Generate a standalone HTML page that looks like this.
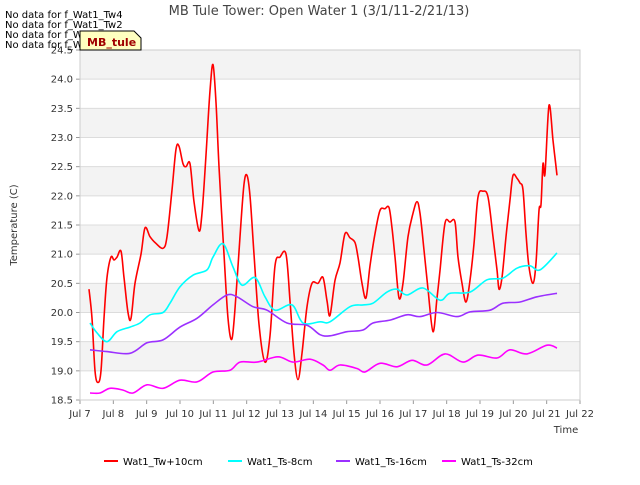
<!DOCTYPE html>
<html><head><meta charset="utf-8"><style>
body{margin:0;background:#fff;font-family:"Liberation Sans","DejaVu Sans",sans-serif}
svg text{font-family:"DejaVu Sans","Liberation Sans",sans-serif}
</style></head><body>
<svg id="chart" width="640" height="480" viewBox="0 0 640 480" xmlns="http://www.w3.org/2000/svg">
<g id="bands"></g>
<g id="axes"></g>
<g id="series"></g>
<text x="319" y="15" font-size="13" fill="#444" text-anchor="middle">MB Tule Tower: Open Water 1 (3/1/11-2/21/13)</text>
<text x="17" y="225" font-size="10" fill="#333" text-anchor="middle" transform="rotate(-90 17 225)">Temperature (C)</text>
<text x="566" y="433" font-size="10" fill="#333" text-anchor="middle">Time</text>
<g font-size="10" fill="#000">
<text x="5" y="18">No data for f_Wat1_Tw4</text>
<text x="5" y="28">No data for f_Wat1_Tw2</text>
<text x="5" y="38">No data for f_Wat1_Ts2</text>
<text x="5" y="48">No data for f_Wat1_Ts4</text>
</g>
<g>
<path d="M80,31 L134,31 L141,38 L141,50 L80,50 Z" fill="#ffffc0" stroke="#000" stroke-width="1"/>
<text x="87" y="46" font-size="11" font-weight="bold" fill="#a00000">MB_tule</text>
</g>
<g id="legend" font-size="10" fill="#000"></g>
</svg>
<script>
const redDays=[7.27,7.36,7.45,7.54,7.63,7.72,7.81,7.93,8.02,8.11,8.23,8.32,8.44,8.53,8.65,8.83,8.95,9.10,9.25,9.49,9.61,9.76,9.88,9.97,10.09,10.18,10.30,10.42,10.57,10.66,10.78,10.90,10.99,11.08,11.17,11.32,11.44,11.56,11.68,11.80,11.92,12.01,12.10,12.22,12.37,12.55,12.70,12.85,13.00,13.18,13.30,13.42,13.54,13.66,13.81,13.96,14.14,14.29,14.41,14.50,14.65,14.80,14.95,15.10,15.25,15.34,15.46,15.58,15.70,15.85,16.00,16.15,16.27,16.36,16.45,16.57,16.69,16.84,16.99,17.11,17.20,17.32,17.44,17.59,17.71,17.80,17.95,18.10,18.25,18.34,18.46,18.58,18.70,18.82,18.94,19.09,19.24,19.39,19.51,19.57,19.66,19.78,19.90,19.99,20.11,20.20,20.29,20.38,20.47,20.59,20.68,20.77,20.83,20.89,20.95,21.07,21.19,21.25,21.31];
const redVals=[20.4,19.9,19.0,18.8,19.0,19.9,20.6,20.95,20.9,20.95,21.05,20.6,20.0,19.9,20.5,21.0,21.45,21.3,21.2,21.1,21.3,22.1,22.8,22.85,22.55,22.5,22.55,21.9,21.4,21.7,22.7,23.8,24.25,23.6,22.5,21.0,19.9,19.55,20.3,21.3,22.2,22.35,22.0,21.0,19.8,19.15,19.6,20.8,20.95,21.0,20.2,19.3,18.85,19.3,20.1,20.5,20.5,20.6,20.2,19.95,20.55,20.85,21.35,21.28,21.2,20.95,20.5,20.25,20.8,21.35,21.75,21.78,21.8,21.45,20.95,20.25,20.5,21.3,21.7,21.9,21.7,21.07,20.4,19.67,20.25,20.72,21.53,21.55,21.55,20.95,20.5,20.18,20.55,21.18,21.98,22.08,21.98,21.3,20.73,20.4,20.6,21.3,21.93,22.35,22.3,22.22,22.1,21.35,20.78,20.5,20.85,21.75,21.85,22.55,22.38,23.55,22.95,22.65,22.35];
const cyanDays=[7.30,7.51,7.81,8.11,8.50,8.80,9.10,9.49,9.70,10.00,10.39,10.81,10.99,11.29,11.59,11.86,12.25,12.55,12.85,13.36,13.69,14.20,14.50,15.10,15.49,15.79,16.21,16.51,16.81,17.29,17.80,18.10,18.70,19.21,19.69,20.11,20.50,20.80,21.31];
const cyanVals=[19.82,19.65,19.5,19.67,19.75,19.82,19.96,20.0,20.16,20.44,20.64,20.73,20.95,21.18,20.78,20.47,20.6,20.27,20.04,20.13,19.82,19.84,19.84,20.1,20.13,20.16,20.35,20.4,20.3,20.42,20.21,20.33,20.35,20.56,20.59,20.76,20.8,20.73,21.02];
const purpleDays=[7.30,7.81,8.50,9.01,9.49,10.00,10.51,10.99,11.41,11.71,12.19,12.61,13.21,13.81,14.20,14.50,15.01,15.49,15.79,16.30,16.81,17.20,17.71,18.31,18.70,19.30,19.69,20.20,20.71,21.31];
const purpleVals=[19.36,19.33,19.3,19.48,19.53,19.75,19.9,20.13,20.3,20.27,20.1,20.04,19.82,19.78,19.62,19.6,19.67,19.7,19.82,19.87,19.96,19.93,20.0,19.93,20.01,20.04,20.16,20.18,20.27,20.33];
const magentaDays=[7.30,7.60,7.90,8.29,8.59,9.01,9.49,10.00,10.51,10.99,11.50,11.80,12.31,12.94,13.39,13.90,14.29,14.50,14.80,15.31,15.55,16.00,16.51,16.96,17.41,17.95,18.49,18.94,19.51,19.90,20.41,21.01,21.31];
const magentaVals=[18.62,18.62,18.7,18.67,18.62,18.76,18.7,18.84,18.81,18.98,19.01,19.15,19.15,19.24,19.15,19.2,19.1,19.01,19.1,19.04,18.98,19.13,19.07,19.18,19.1,19.29,19.15,19.27,19.22,19.36,19.29,19.44,19.39];
const yTicks=[18.5,19.0,19.5,20.0,20.5,21.0,21.5,22.0,22.5,23.0,23.5,24.0,24.5];
const xTicks=[7,8,9,10,11,12,13,14,15,16,17,18,19,20,21,22];
const xTickLabels=["Jul 7","Jul 8","Jul 9","Jul 10","Jul 11","Jul 12","Jul 13","Jul 14","Jul 15","Jul 16","Jul 17","Jul 18","Jul 19","Jul 20","Jul 21","Jul 22"];
const seriesNames=["Wat1_Tw+10cm","Wat1_Ts-8cm","Wat1_Ts-16cm","Wat1_Ts-32cm"];

const NS="http://www.w3.org/2000/svg";
const L=80,R=580,T=50,B=400;
const xs=d=>L+(d-7)/(22-7)*(R-L);
const ys=v=>B-(v-18.5)/(24.5-18.5)*(B-T);
function mk(tag,parent,attrs){const e=document.createElementNS(NS,tag);for(const k in attrs)e.setAttribute(k,attrs[k]);parent.appendChild(e);return e;}
const bands=document.getElementById('bands'),axes=document.getElementById('axes'),ser=document.getElementById('series'),leg=document.getElementById('legend');
mk('rect',bands,{x:L,y:T,width:R-L,height:B-T,fill:'#fff'});
for(let v=19;v<24.5;v+=1){
  const r=mk('rect',bands,{x:L,y:ys(v+0.5),width:R-L,height:ys(v)-ys(v+0.5),fill:'#f3f3f3'});
  
  
}
yTicks.forEach(v=>{
  const g=mk('line',axes,{x1:L,x2:R,y1:ys(v),y2:ys(v),stroke:'#dcdcdc','stroke-width':1});
  
  
  mk('line',axes,{x1:L-4,x2:L,y1:ys(v),y2:ys(v),stroke:'#999'});
  const t=mk('text',axes,{x:L-7,y:ys(v)+3.5,'font-size':10,fill:'#333','text-anchor':'end'});
  t.textContent=v.toFixed(1);
  
  
});
xTicks.forEach((d,i)=>{
  mk('line',axes,{x1:xs(d),x2:xs(d),y1:B,y2:B+4,stroke:'#999'});
  const t=mk('text',axes,{x:xs(d),y:B+17,'font-size':10,fill:'#333','text-anchor':'middle'});
  t.textContent=xTickLabels[i];
  
  
});
mk('rect',axes,{x:L,y:T,width:R-L,height:B-T,fill:'none',stroke:'#ccc'});
function smoothPath(P){
  let p='M'+P[0][0].toFixed(1)+','+P[0][1].toFixed(1);
  for(let i=0;i<P.length-1;i++){
    const p0=P[i-1]||P[i],p1=P[i],p2=P[i+1],p3=P[i+2]||p2;
    const c1=[p1[0]+(p2[0]-p0[0])/6,p1[1]+(p2[1]-p0[1])/6];
    const c2=[p2[0]-(p3[0]-p1[0])/6,p2[1]-(p3[1]-p1[1])/6];
    p+='C'+c1[0].toFixed(1)+','+c1[1].toFixed(1)+' '+c2[0].toFixed(1)+','+c2[1].toFixed(1)+' '+p2[0].toFixed(1)+','+p2[1].toFixed(1);
  }
  return p;
}
const defs=[[redDays,redVals,'#ff0000','series-tw-10cm'],[cyanDays,cyanVals,'#00ffff','series-ts-8cm'],[purpleDays,purpleVals,'#9b30ff','series-ts-16cm'],[magentaDays,magentaVals,'#ff00ff','series-ts-32cm']];
defs.forEach(([d,v,c,n])=>{
  const m=Math.min(d.length,v.length);const P=[];
  for(let i=0;i<m;i++)P.push([xs(d[i]),ys(v[i])]);
  const e=mk('path',ser,{d:smoothPath(P),fill:'none',stroke:c,'stroke-width':1.6,'stroke-linejoin':'round'});
  
  
});
const lx=[104,228,336,442];
defs.forEach((s,i)=>{
  const g=mk('g',leg,{});
  
  
  mk('line',g,{x1:lx[i],x2:lx[i]+14,y1:461,y2:461,stroke:s[2],'stroke-width':2});
  const t=mk('text',g,{x:lx[i]+19,y:465,'font-size':10,fill:'#000'});
  t.textContent=seriesNames[i];
});
</script>
</body></html>
